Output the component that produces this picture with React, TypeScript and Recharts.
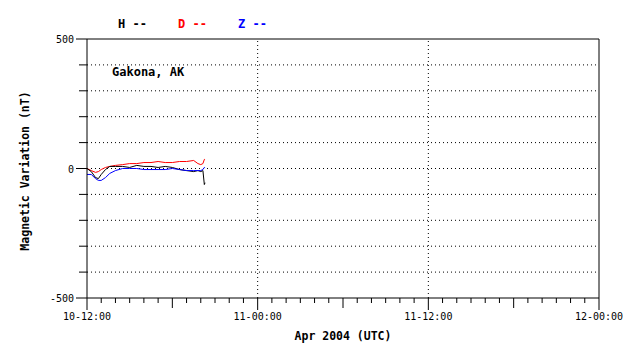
import React from 'react';
import { LineChart, Line, XAxis, YAxis, ReferenceLine } from 'recharts';

const times = [0, 0.3, 0.6, 0.8, 1.0, 1.3, 1.6, 2.0, 2.5, 3.0, 3.5, 4.0, 4.5, 5.0, 5.5, 6.0, 6.5, 7.0, 7.5, 7.8, 8.0, 8.15, 8.25, 8.3];
const hValues = [0, -12, -35, -39, -23, -4, 8, 8, 8, 4, 12, 8, 8, 4, 8, 4, -4, -8, -12, -8, -12, -8, -62, -55];
const dValues = [0, -8, -15, -12, -4, 4, 8, 12, 15, 19, 19, 23, 23, 27, 23, 23, 27, 27, 31, 19, 15, 19, 35, 35];
const zValues = [-23, -23, -39, -46, -46, -35, -19, -8, 0, 0, 0, -4, -4, -4, -4, 0, -4, -8, -8, -8, -8, -4, 4, 4];

const xTicks = Array.from({ length: 37 }, (_, i) => i);
const xTickLabels: Record<number, string> = { 0: '10-12:00', 12: '11-00:00', 24: '11-12:00', 36: '12-00:00' };
const yTicks = [-500, -400, -300, -200, -100, 0, 100, 200, 300, 400, 500];
const yLabeled = [-500, 0, 500];
const gridY = [-400, -300, -200, -100, 0, 100, 200, 300, 400];
const gridX = [12, 24];

const legendItems = [
  { name: 'H', color: '#000000' },
  { name: 'D', color: '#ff0000' },
  { name: 'Z', color: '#0000ff' },
];

const data = times.map((t, i) => ({ t, H: hValues[i], D: dValues[i], Z: zValues[i] }));

const FONT = '"DejaVu Sans Mono", monospace';

const XTick = (props: any) => {
  const { x, y, payload } = props;
  const v = payload.value as number;
  const len = v % 12 === 0 ? 12 : v % 6 === 0 ? 10 : 5;
  const label = xTickLabels[v];
  return (
    <g>
      <line x1={x} x2={x} y1={y} y2={y + len} stroke="#000" strokeWidth={1} />
      {label && (
        <text x={x} y={y + 22} textAnchor="middle" fontFamily={FONT} fontSize={10} fill="#000">
          {label}
        </text>
      )}
    </g>
  );
};

const YTick = (props: any) => {
  const { x, y, payload } = props;
  const v = payload.value as number;
  const labeled = yLabeled.includes(v);
  return (
    <g>
      <line x1={x - (labeled ? 11 : 8)} x2={x} y1={y} y2={y} stroke="#000" strokeWidth={1} />
      {labeled && (
        <text x={x - 13} y={y + 4} textAnchor="end" fontFamily={FONT} fontSize={10} fill="#000">
          {String(v)}
        </text>
      )}
    </g>
  );
};

export default function App() {
  return (
    <div style={{ position: 'absolute', left: 0, top: 0, width: 638, height: 359, background: '#fff' }}>
      <LineChart width={638} height={359} data={data} margin={{ top: 39, right: 39, bottom: 0, left: 0 }}>
        {gridY.map((v) => (
          <ReferenceLine key={'gy' + v} y={v} stroke="#000" strokeDasharray="1 3" ifOverflow="extendDomain" />
        ))}
        {gridX.map((v) => (
          <ReferenceLine key={'gx' + v} x={v} stroke="#000" strokeDasharray="1 3" />
        ))}
        <ReferenceLine y={500} stroke="#000" />
        <ReferenceLine x={36} stroke="#000" />
        <XAxis
          dataKey="t"
          type="number"
          domain={[0, 36]}
          ticks={xTicks}
          interval={0}
          height={61}
          tickSize={0}
          tickMargin={0}
          tickLine={false}
          tick={<XTick />}
          axisLine={{ stroke: '#000' }}
          allowDataOverflow
        />
        <YAxis
          type="number"
          domain={[-500, 500]}
          ticks={yTicks}
          interval={0}
          width={87}
          tickSize={0}
          tickMargin={0}
          tickLine={false}
          tick={<YTick />}
          axisLine={{ stroke: '#000' }}
          allowDataOverflow
        />
        <Line type="linear" dataKey="D" stroke="#ff0000" strokeWidth={1} dot={false} isAnimationActive={false} />
        <Line type="linear" dataKey="H" stroke="#000000" strokeWidth={1} dot={false} isAnimationActive={false} />
        <Line type="linear" dataKey="Z" stroke="#0000ff" strokeWidth={1} dot={false} isAnimationActive={false} />
      </LineChart>
      <svg width={638} height={359} style={{ position: 'absolute', left: 0, top: 0, pointerEvents: 'none' }}>
        {legendItems.map((it, i) => (
          <text
            key={it.name}
            x={118 + i * 60}
            y={28}
            fontFamily={FONT}
            fontWeight="bold"
            fontSize={12}
            fill={it.color}
            style={{ whiteSpace: 'pre' }}
          >
            {it.name + ' --'}
          </text>
        ))}
        <text x={112} y={76} fontFamily={FONT} fontWeight="bold" fontSize={12} fill="#000">
          Gakona, AK
        </text>
        <text x={343} y={340} textAnchor="middle" fontFamily={FONT} fontWeight="bold" fontSize={11.5} fill="#000">
          Apr 2004 (UTC)
        </text>
        <text
          x={0}
          y={0}
          transform="translate(29,171) rotate(-90)"
          textAnchor="middle"
          fontFamily={FONT}
          fontWeight="bold"
          fontSize={11.5}
          fill="#000"
        >
          Magnetic Variation (nT)
        </text>
      </svg>
    </div>
  );
}
